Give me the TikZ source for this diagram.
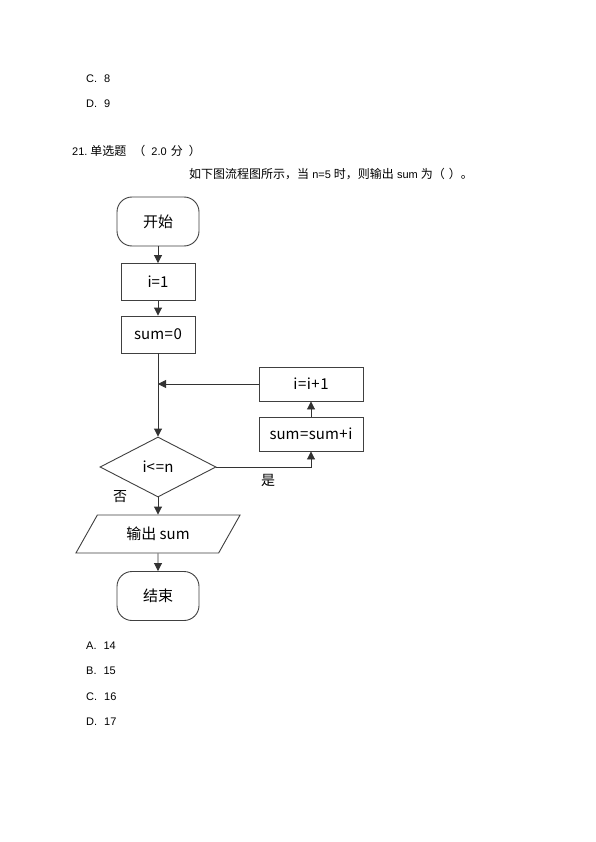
\documentclass[tikz,border=0pt]{standalone}
\usepackage{fontspec}
\setmainfont{Liberation Sans}
\newfontfamily\cjk{Noto Sans CJK SC}
\newcommand\zh[1]{{\cjk\fontsize{12}{14}\selectfont #1}}
\usetikzlibrary{shapes.geometric,arrows.meta}
\begin{document}
\begin{tikzpicture}[x=1pt,y=-1pt,
 txt/.style={anchor=west,inner sep=0,font=\fontsize{11}{13}\selectfont},
 fc/.style={draw=black!75,line width=0.9pt,font=\cjk\fontsize{15}{18}\selectfont,inner sep=0},
 proc/.style={fc,rectangle,minimum width=74,minimum height=37},
 term/.style={fc,rectangle,rounded corners=15pt,minimum width=82,minimum height=49},
 arr/.style={draw=black!80,line width=0.9pt,-{Triangle[length=8pt,width=8pt]}},
 lbl/.style={inner sep=0,font=\cjk\fontsize{14}{16}\selectfont}]
\useasboundingbox[fill=white] (0,0) rectangle (596,842);
% question text
\node[txt] (c8) at (86,79) {C.\hspace{7pt}8};
\node[txt] (d9) at (86,104) {D.\hspace{7pt}9};
\node[txt] (q) at (72,151) {21.\hspace{3pt}\zh{单选题}\hspace{7pt}\zh{（}\hspace{6pt}2.0\hspace{4pt}\zh{分}\hspace{6pt}\zh{）}};
\node[txt] (q2) at (189,174) {\zh{如下图流程图所示，当} n=5 \zh{时，则输出} sum \zh{为（}\hspace{4pt}\zh{）。}};
\node[txt] (a) at (86,646) {A.\hspace{7pt}14};
\node[txt] (b) at (86,671) {B.\hspace{7pt}15};
\node[txt] (c) at (86,697) {C.\hspace{7pt}16};
\node[txt] (d) at (86,722) {D.\hspace{7pt}17};
% flowchart
\node[term] (start) at (158,221.5) {开始};
\node[proc] (i1) at (158,282) {i=1};
\node[proc] (s0) at (158,334.5) {sum\hspace{0.5pt}=\hspace{0.5pt}0};
\node[fc,diamond,minimum width=116,minimum height=60] (cond) at (158,467) {i<\hspace{1pt}=n};
\node[proc,minimum width=104,minimum height=34] (inc) at (311,384) {i\hspace{0.5pt}=\hspace{0.5pt}i\hspace{0.5pt}+\hspace{0.5pt}1};
\node[proc,minimum width=104,minimum height=34] (add) at (311,434) {sum\hspace{0.5pt}=\hspace{0.5pt}sum\hspace{0.5pt}+\hspace{0.5pt}i};
\node[fc,trapezium,trapezium left angle=51,trapezium right angle=129,trapezium stretches=true,minimum width=165,minimum height=38] (out) at (158,534) {输出 sum};
\node[term] (end) at (158,596) {结束};
\node[lbl] (yes) at (268,480) {是};
\node[lbl] (no) at (120,497) {否};
\coordinate (j) at (s0.south |- inc.west);
\draw[arr] (start) -- (i1);
\draw[arr] (i1) -- (s0);
\draw[arr] (s0) -- (cond);
\draw[arr] (inc.west) -- (j);
\draw[arr] (cond.east) -| (add.south);
\draw[arr] (add) -- (inc);
\draw[arr] (cond) -- (out);
\draw[arr] (out) -- (end);
\end{tikzpicture}
\end{document}
